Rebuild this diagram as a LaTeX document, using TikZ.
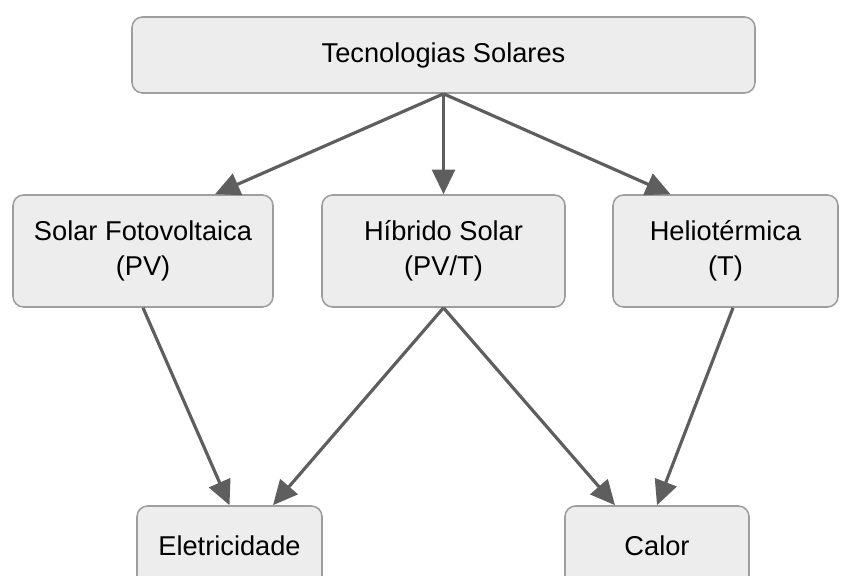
\documentclass[tikz,border=0pt]{standalone}
\usepackage{fontspec}
\setmainfont{Liberation Sans}
\usetikzlibrary{arrows.meta,positioning}
\definecolor{boxfill}{RGB}{237,237,237}
\definecolor{boxline}{RGB}{158,158,158}
\definecolor{arrowgray}{RGB}{94,94,94}
\tikzset{>={Triangle[length=14pt,width=13pt]}}
\tikzset{
  techbox/.style={draw=boxline,fill=boxfill,line width=0.9pt,
    rounded corners=6pt,align=center,inner sep=0pt},
  flow/.style={->,arrowgray,line width=1.8pt}
}

\begin{document}
\begin{tikzpicture}[font=\fontsize{15.5}{20}\selectfont]
  \useasboundingbox (0,0) rectangle (16.86,-11.52);
  \clip (0,0) rectangle (16.86,-11.52);

  % Root
  \node[techbox,minimum width=12.46cm,minimum height=1.52cm]
    (tec) at (8.87,-1.10) {Tecnologias Solares};

  % Technologies
  \node[techbox,minimum width=5.2cm,minimum height=2.24cm]
    (pv) at (2.86,-5.02) {Solar Fotovoltaica\\(PV)};
  \node[techbox,minimum width=4.86cm,minimum height=2.24cm]
    (hib) at (8.87,-5.02) {Híbrido Solar\\(PV/T)};
  \node[techbox,minimum width=4.5cm,minimum height=2.24cm]
    (helio) at (14.51,-5.02) {Heliotérmica\\(T)};

  % Outputs
  \node[techbox,minimum width=3.7cm,minimum height=1.6cm]
    (elet) at (4.59,-10.92) {Eletricidade};
  \node[techbox,minimum width=3.68cm,minimum height=1.6cm]
    (calor) at (13.14,-10.92) {Calor};

  \draw[flow] (tec.south) -- ([xshift=1.44cm]pv.north);
  \draw[flow] (tec.south) -- (hib.north);
  \draw[flow] (tec.south) -- ([xshift=-1.1cm]helio.north);

  \draw[flow] (pv.south) -- (elet.north);
  \draw[flow] (hib.south) -- ([xshift=0.87cm]elet.north);
  \draw[flow] (hib.south) -- ([xshift=-0.84cm]calor.north);
  \draw[flow] ([xshift=0.15cm]helio.south) -- (calor.north);
\end{tikzpicture}
\end{document}
